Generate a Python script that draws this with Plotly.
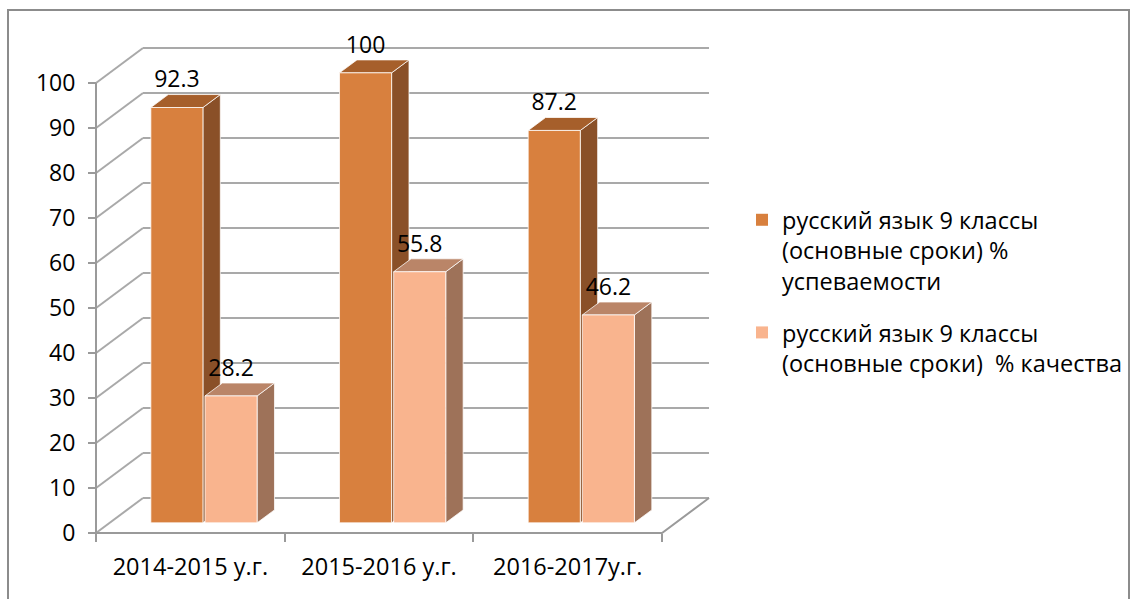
import plotly.graph_objects as go

# ---------------- data ----------------
categories = ["2014-2015 у.г.", "2015-2016 у.г.", "2016-2017у.г."]
series_names = [
    "русский язык 9 классы<br>(основные сроки) %<br>успеваемости",
    "русский язык 9 классы<br>(основные сроки)  % качества",
]
uspevaemost = [92.3, 100, 87.2]
kachestvo = [28.2, 55.8, 46.2]
y_ticks = [0, 10, 20, 30, 40, 50, 60, 70, 80, 90, 100]

# ---------------- styling ----------------
FONT = "Open Sans"
GRID = "#A9A9A9"
AXIS = "#9A9A9A"
FRONT = ["#D8803E", "#F9B48E"]
TOP = ["#A65F2B", "#BA8568"]
SIDE = ["#8A5028", "#9E7259"]
EDGE = "rgba(255,255,255,0.75)"

W, H = 1131, 599
ML, MR, MT, MB = 80, 400, 10, 56
PLOT_W = W - ML - MR
PLOT_H = H - MT - MB
SX = 188.67        # px per category unit
SY = 4.5           # px per value unit
AX_PX, AY_PX = 96, 533   # pixel of data origin
x0r = -(AX_PX - ML) / SX
x1r = x0r + PLOT_W / SX
y0r = -((H - MB) - AY_PX) / SY
y1r = y0r + PLOT_H / SY

DX = 47 / SX       # depth offset of back wall (x units)
DY = 35 / SY       # depth offset of back wall (y units)
D0, D1 = 0.29, 0.66  # bar depth (front, back) as fraction of floor depth
BAR_W = 0.276
BAR_GAP = 0.011
NCAT = len(categories)

fig = go.Figure()

# back wall gridlines
gx, gy = [], []
for v in y_ticks:
    gx += [DX, NCAT + DX, None]
    gy += [v + DY, v + DY, None]
fig.add_trace(go.Scatter(x=gx, y=gy, mode="lines", line=dict(color=GRID, width=2),
                         hoverinfo="skip", showlegend=False))
# left wall diagonals
lx, ly = [], []
for v in y_ticks:
    lx += [0, DX, None]
    ly += [v, v + DY, None]
fig.add_trace(go.Scatter(x=lx, y=ly, mode="lines", line=dict(color=GRID, width=2),
                         hoverinfo="skip", showlegend=False))
# floor front edge + right diagonal, front vertical axis
fig.add_trace(go.Scatter(x=[0, NCAT, NCAT + DX], y=[0, 0, DY], mode="lines",
                         line=dict(color=AXIS, width=2), hoverinfo="skip", showlegend=False))
fig.add_trace(go.Scatter(x=[0, 0], y=[0, max(y_ticks)], mode="lines",
                         line=dict(color=AXIS, width=2), hoverinfo="skip", showlegend=False))

def poly(xs, ys, color):
    fig.add_trace(go.Scatter(x=xs + [xs[0]], y=ys + [ys[0]], mode="lines", fill="toself",
                             fillcolor=color, line=dict(color=EDGE, width=1),
                             hoverinfo="skip", showlegend=False))

label_x, label_y, label_t = [], [], []
group_w = 2 * BAR_W + BAR_GAP
ddx, ddy = (D1 - D0) * DX, (D1 - D0) * DY
for i in range(NCAT):
    for s, vals in enumerate([uspevaemost, kachestvo]):
        v = vals[i]
        xa = i + 0.5 - group_w / 2 + s * (BAR_W + BAR_GAP) + D0 * DX
        xb = xa + BAR_W
        base = D0 * DY
        top = v + D0 * DY
        poly([xb, xb + ddx, xb + ddx, xb], [base, base + ddy, top + ddy, top], SIDE[s])
        poly([xa, xb, xb + ddx, xa + ddx], [top, top, top + ddy, top + ddy], TOP[s])
        poly([xa, xb, xb, xa], [base, base, top, top], FRONT[s])
        label_x.append((xa + xb) / 2)
        label_y.append(top + ddy + 13 / SY)
        label_t.append(f"{v:g}")

fig.add_trace(go.Scatter(x=label_x, y=label_y, text=label_t, mode="text",
                         textposition="middle center",
                         textfont=dict(family=FONT, size=23, color="#000000"),
                         hoverinfo="skip", showlegend=False, cliponaxis=False))

# legend entries
for s, name in enumerate(series_names):
    fig.add_trace(go.Scatter(x=[None], y=[None], mode="markers", name=name,
                             legendgroup=f"g{s}",
                             marker=dict(symbol="square", size=12, color=FRONT[s])))

def px_x(p):
    return (p - ML) / PLOT_W
def px_y(p):
    return ((H - MB) - p) / PLOT_H

# outer frame
fig.add_shape(type="rect", xref="paper", yref="paper",
              x0=px_x(8), x1=px_x(1129), y0=px_y(650), y1=px_y(10),
              line=dict(color="#8C8C8C", width=2), fillcolor="rgba(0,0,0,0)", layer="below")

fig.update_layout(
    width=W, height=H,
    margin=dict(l=ML, r=MR, t=MT, b=MB, pad=0, autoexpand=False),
    paper_bgcolor="white", plot_bgcolor="white",
    font=dict(family=FONT, size=23, color="#000000"),
    showlegend=True,
    legend=dict(xref="container", yref="container",
                x=742 / W, y=1 - 198 / H, xanchor="left", yanchor="top",
                font=dict(family=FONT, size=23.5, color="#000000"),
                valign="top", tracegroupgap=18, bgcolor="rgba(0,0,0,0)",
                itemsizing="constant"),
    xaxis=dict(range=[x0r, x1r], showgrid=False, zeroline=False, showline=False,
               anchor="free", position=(H - MB - AY_PX) / PLOT_H,
               tickmode="array", tickvals=[i + 0.5 for i in range(NCAT)], ticktext=categories,
               ticks="", ticklabelstandoff=17, tickfont=dict(size=23.5),
               minor=dict(tickmode="array", tickvals=list(range(NCAT + 1)), ticks="outside",
                          ticklen=8, tickwidth=2, tickcolor=AXIS, showgrid=False),
               fixedrange=True),
    yaxis=dict(range=[y0r, y1r], showgrid=False, zeroline=False, showline=False,
               anchor="free", position=(AX_PX - ML) / PLOT_W,
               tickmode="array", tickvals=y_ticks, ticks="outside", ticklen=8,
               tickwidth=2, tickcolor=AXIS, ticklabelstandoff=8, fixedrange=True),
)

fig.write_html(
    "out.html",
    config={"displayModeBar": False},
    post_script="document.body.style.margin='0';document.body.style.overflow='hidden';",
)
